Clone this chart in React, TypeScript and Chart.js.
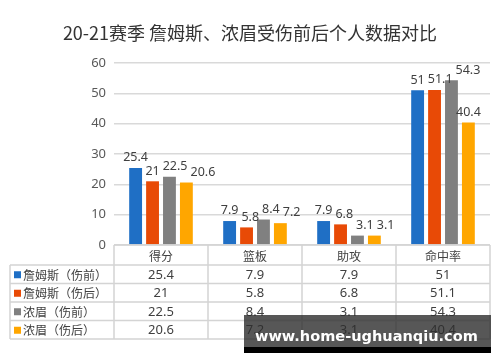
import React, { useEffect, useRef } from "react";
import { Chart, registerables } from "chart.js";

Chart.register(...registerables);

const TITLE = "20-21赛季 詹姆斯、浓眉受伤前后个人数据对比";
const categories = ["得分", "篮板", "助攻", "命中率"];
const seriesNames = ["詹姆斯（伤前）", "詹姆斯（伤后）", "浓眉（伤前）", "浓眉（伤后）"];
const jamesBefore = [25.4, 7.9, 7.9, 51];
const jamesAfter = [21, 5.8, 6.8, 51.1];
const adBefore = [22.5, 8.4, 3.1, 54.3];
const adAfter = [20.6, 7.2, 3.1, 40.4];
const seriesValues = [jamesBefore, jamesAfter, adBefore, adAfter];
const seriesColors = ["#1f6fc5", "#e84a06", "#808080", "#ffa600"];
const WATERMARK = "www.home-ughuanqiu.com";

const FONT = "'Noto Sans', 'Noto Sans CJK SC', sans-serif";
const CJK = "'Noto Sans CJK SC', sans-serif";

const tablePlugin = {
  id: "tablePlugin",
  afterDraw(chart: any) {
    const ctx = chart.ctx as CanvasRenderingContext2D;
    const area = chart.chartArea;
    const xs = chart.scales.x;
    ctx.save();
    // title
    ctx.fillStyle = "#333333";
    ctx.font = `18px ${CJK}`;
    ctx.textAlign = "center";
    ctx.textBaseline = "middle";
    ctx.fillText(TITLE, 250, 33);

    // table geometry
    const n = categories.length;
    const step = (area.right - area.left) / n;
    const colX: number[] = [];
    for (let i = 0; i <= n; i++) colX.push(area.left + step * i);
    const tableLeft = 10;
    const headerTop = area.bottom;
    const headerBottom = headerTop + 20;
    const rowH = 18.5;
    const rowY: number[] = [headerBottom];
    for (let r = 1; r <= seriesNames.length; r++) rowY.push(headerBottom + rowH * r);
    const tableBottom = rowY[rowY.length - 1];

    ctx.strokeStyle = "#d4d4d4";
    ctx.lineWidth = 1.5;
    ctx.beginPath();
    ctx.moveTo(area.left, headerTop);
    ctx.lineTo(area.right, headerTop);
    for (const y of rowY) {
      ctx.moveTo(tableLeft, y);
      ctx.lineTo(area.right, y);
    }
    ctx.moveTo(tableLeft, headerBottom);
    ctx.lineTo(tableLeft, tableBottom);
    for (const x of colX) {
      ctx.moveTo(x, headerTop);
      ctx.lineTo(x, tableBottom);
    }
    ctx.stroke();

    // header labels
    ctx.fillStyle = "#404040";
    ctx.textAlign = "center";
    ctx.textBaseline = "middle";
    ctx.font = `12px ${CJK}`;
    categories.forEach((c, i) => {
      const cx = xs.getPixelForValue(i);
      ctx.fillText(c, cx, (headerTop + headerBottom) / 2 + 1);
    });

    // rows
    seriesNames.forEach((name, r) => {
      const cy = (rowY[r] + rowY[r + 1]) / 2 + 1;
      ctx.fillStyle = seriesColors[r];
      ctx.fillRect(tableLeft + 4, cy - 4, 7, 7);
      ctx.fillStyle = "#404040";
      ctx.textAlign = "left";
      ctx.font = `12px ${CJK}`;
      ctx.fillText(name, tableLeft + 13, cy);
      ctx.textAlign = "center";
      ctx.font = `13px ${FONT}`;
      seriesValues[r].forEach((v, i) => {
        ctx.fillText(String(v), xs.getPixelForValue(i), cy);
      });
    });

    // watermark band
    ctx.fillStyle = "rgba(45,45,45,0.8)";
    ctx.fillRect(244, 315, 247, 32);
    ctx.fillStyle = "#000000";
    ctx.fillRect(244, 347, 247, 6);
    ctx.fillStyle = "#ffffff";
    ctx.textAlign = "left";
    ctx.textBaseline = "alphabetic";
    let size = 20;
    ctx.font = `bold ${size}px 'DejaVu Sans', sans-serif`;
    const w = ctx.measureText(WATERMARK).width;
    size = (size * 223) / w;
    ctx.font = `bold ${size}px 'DejaVu Sans', sans-serif`;
    ctx.fillText(WATERMARK, 255, 341);
    ctx.restore();
  },
};

const labelPlugin = {
  id: "labelPlugin",
  afterDatasetsDraw(chart: any) {
    const ctx = chart.ctx as CanvasRenderingContext2D;
    ctx.save();
    ctx.fillStyle = "#404040";
    ctx.font = `12.5px ${FONT}`;
    ctx.textAlign = "center";
    ctx.textBaseline = "bottom";
    const nCat = categories.length;
    const margin = 3;
    const textH = 12;
    for (let i = 0; i < nCat; i++) {
      const boxes: { cx: number; bottom: number; top: number; w: number; text: string }[] = [];
      chart.data.datasets.forEach((ds: any, di: number) => {
        const el = chart.getDatasetMeta(di).data[i];
        const text = String(ds.data[i]);
        const w = ctx.measureText(text).width;
        const bottom = el.y - 4;
        const box = { cx: el.x, bottom, top: bottom - textH, w, text };
        // push right past any overlapping earlier label
        for (let pass = 0; pass < 4; pass++) {
          for (const p of boxes) {
            const vOverlap = p.top < box.bottom && box.top < p.bottom;
            if (!vOverlap) continue;
            const need = p.cx + p.w / 2 + margin - (box.cx - box.w / 2);
            if (need > 0 && box.cx >= p.cx - 0.01) box.cx += need;
          }
        }
        boxes.push(box);
      });
      for (const b of boxes) ctx.fillText(b.text, b.cx, b.bottom);
    }
    ctx.restore();
  },
};

export default function App() {
  const ref = useRef<HTMLCanvasElement | null>(null);
  useEffect(() => {
    if (!ref.current) return;
    const chart = new Chart(ref.current, {
      type: "bar",
      data: {
        labels: categories,
        datasets: seriesNames.map((name, i) => ({
          label: name,
          data: seriesValues[i],
          backgroundColor: seriesColors[i],
          categoryPercentage: 0.72,
          barPercentage: 0.76,
        })),
      },
      options: {
        animation: false,
        responsive: true,
        maintainAspectRatio: false,
        layout: { padding: { left: 0, right: 10, top: 63, bottom: 117 } },
        plugins: {
          legend: { display: false },
          title: { display: false },
          tooltip: { enabled: false },
        },
        scales: {
          x: { display: false },
          y: {
            min: 0,
            max: 60,
            ticks: {
              stepSize: 10,
              color: "#595959",
              font: { size: 13, family: FONT },
              padding: 8,
            },
            grid: { color: "#d9d9d9", lineWidth: 1.5, drawTicks: false },
            border: { display: false },
            afterFit: (s: any) => {
              s.width = 114;
            },
          },
        },
      },
      plugins: [labelPlugin, tablePlugin],
    });
    return () => chart.destroy();
  }, []);
  return (
    <div style={{ position: "absolute", left: 0, top: 0, width: 500, height: 362, background: "#fff" }}>
      <canvas ref={ref} />
    </div>
  );
}
